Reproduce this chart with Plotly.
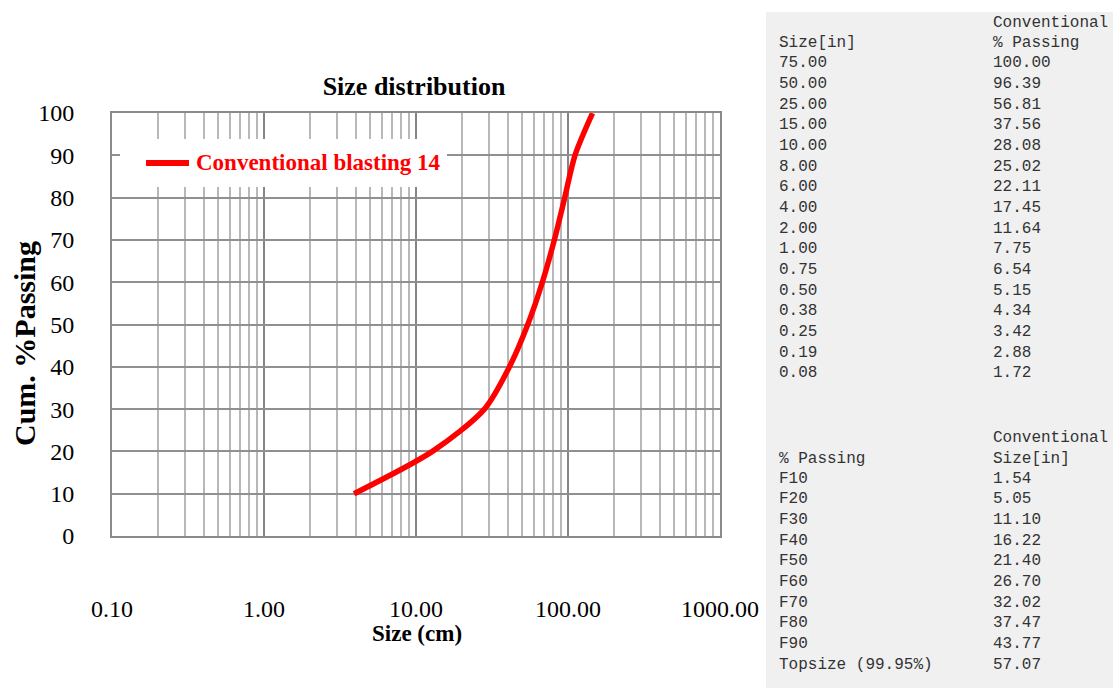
import plotly.graph_objects as go

# ---- chart data: fragmentation curve (size in inches -> plotted in cm) ----
f_labels = ["F10", "F20", "F30", "F40", "F50", "F60", "F70", "F80", "F90", "Topsize (99.95%)"]
f_passing = [10, 20, 30, 40, 50, 60, 70, 80, 90, 99.95]
f_size_in = [1.54, 5.05, 11.10, 16.22, 21.40, 26.70, 32.02, 37.47, 43.77, 57.07]

# ---- size / passing table ----
table_size_in = [75.00, 50.00, 25.00, 15.00, 10.00, 8.00, 6.00, 4.00, 2.00, 1.00,
                 0.75, 0.50, 0.38, 0.25, 0.19, 0.08]
table_passing = [100.00, 96.39, 56.81, 37.56, 28.08, 25.02, 22.11, 17.45, 11.64, 7.75,
                 6.54, 5.15, 4.34, 3.42, 2.88, 1.72]

series_name = "Conventional blasting 14"
x_ticks = [0.1, 1, 10, 100, 1000]
y_ticks = list(range(0, 101, 10))

INCH_TO_CM = 2.54
curve_x = [v * INCH_TO_CM for v in f_size_in]
curve_y = [min(p, 100) for p in f_passing]

W, H = 1113, 692
L, R, T, B = 112, 720, 113, 536  # plot area in pixels


def px(x):
    return (x - L) / (R - L)


def py(y):
    return (B - y) / (B - T)


SERIF = "Liberation Serif, Times New Roman, serif"
MONO = "Liberation Mono, Courier New, monospace"
RED = "#ff0000"

fig = go.Figure()
fig.add_trace(go.Scatter(
    x=curve_x, y=curve_y, mode="lines", name=series_name,
    line=dict(color=RED, width=5.5, shape="spline", smoothing=0.8),
    showlegend=False,
))

fig.update_layout(
    width=W, height=H,
    margin=dict(l=L, r=W - R, t=T, b=H - B),
    paper_bgcolor="white", plot_bgcolor="white",
    title=dict(text="<b>Size distribution</b>", x=px(414), xref="paper",
               y=1 - 86 / H, yref="container", xanchor="center", yanchor="middle",
               font=dict(family=SERIF, size=26, color="black")),
    xaxis=dict(
        type="log", range=[-1, 3], tickvals=x_ticks,
        ticktext=[f"{v:.2f}" for v in x_ticks],
        tickfont=dict(family=SERIF, size=24, color="black"),
        ticks="", ticklabelstandoff=50,
        showgrid=True, gridcolor="#858585", gridwidth=2,
        minor=dict(dtick="D1", showgrid=True, gridcolor="#b8b8b8", gridwidth=1.6, ticks=""),
        showline=True, linecolor="#8a8a8a", linewidth=2, mirror=True,
        zeroline=False,
    ),
    yaxis=dict(
        range=[0, 100], tickvals=y_ticks,
        tickfont=dict(family=SERIF, size=24, color="black"),
        ticks="", ticklabelstandoff=31,
        showgrid=True, gridcolor="#909090", gridwidth=2,
        showline=True, linecolor="#8a8a8a", linewidth=2, mirror=True,
        zeroline=False,
    ),
)

annotations = []
shapes = []

# axis titles
annotations.append(dict(text="<b>Size (cm)</b>", x=px(417), y=py(633), xref="paper", yref="paper",
                        showarrow=False, xanchor="center", yanchor="middle",
                        font=dict(family=SERIF, size=23, color="black")))
annotations.append(dict(text="<b>Cum. %Passing</b>", x=px(24), y=py(344), xref="paper", yref="paper",
                        showarrow=False, xanchor="center", yanchor="middle", textangle=-90,
                        font=dict(family=SERIF, size=30, color="black")))

# legend box
shapes.append(dict(type="rect", xref="paper", yref="paper", layer="above",
                   x0=px(120), x1=px(447), y0=py(187), y1=py(139),
                   fillcolor="white", line=dict(width=0)))
shapes.append(dict(type="line", xref="paper", yref="paper", layer="above",
                   x0=px(146), x1=px(189), y0=py(163), y1=py(163),
                   line=dict(color=RED, width=6)))
annotations.append(dict(text=f"<b>{series_name}</b>", x=px(194), y=py(163), xref="paper", yref="paper",
                        showarrow=False, xanchor="left", yanchor="middle",
                        font=dict(family=SERIF, size=23, color=RED)))

# table panel
shapes.append(dict(type="rect", xref="paper", yref="paper", layer="above",
                   x0=px(766), x1=px(1115), y0=py(688), y1=py(12),
                   fillcolor="#f0f0f0", line=dict(width=0)))

COL1, COL2 = 777, 991
ROW = 20.67


def cell(text, x, y):
    annotations.append(dict(text=text, x=px(x), y=py(y), xref="paper", yref="paper",
                            showarrow=False, xanchor="left", yanchor="middle",
                            font=dict(family=MONO, size=16, color="#333333")))


cell("Conventional", COL2, 22.5)
cell("Size[in]", COL1, 43.3)
cell("% Passing", COL2, 43.3)
for i, (s, p) in enumerate(zip(table_size_in, table_passing)):
    y = 63.3 + ROW * i
    cell(f"{s:.2f}", COL1, y)
    cell(f"{p:.2f}", COL2, y)

cell("Conventional", COL2, 437.7)
cell("% Passing", COL1, 458.5)
cell("Size[in]", COL2, 458.5)
for i, (lab, s) in enumerate(zip(f_labels, f_size_in)):
    y = 478.7 + ROW * i
    cell(lab, COL1, y)
    cell(f"{s:.2f}", COL2, y)

fig.update_layout(annotations=annotations, shapes=shapes)
fig.write_html("out.html")
